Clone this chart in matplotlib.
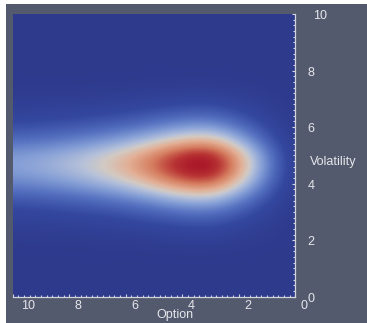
import matplotlib
matplotlib.use('Agg')
import matplotlib.pyplot as plt
import numpy as np
from matplotlib.colors import LinearSegmentedColormap
from matplotlib.patches import Rectangle
from matplotlib.ticker import MultipleLocator
import matplotlib.transforms as mtransforms

# option axis samples (0..10) and peak value of the field along the ridge
option = [0, 1, 2, 3, 4, 5, 6, 7, 8, 9, 10]
ridge = [0.02, 0.3, 0.68, 1.0, 0.95, 0.78, 0.63, 0.53, 0.46, 0.41, 0.38]

# volatility samples (0..10 step 0.5) and relative profile across the ridge
volatility = [0, 0.5, 1, 1.5, 2, 2.5, 3, 3.5, 4, 4.5, 5, 5.5, 6, 6.5, 7, 7.5, 8,
              8.5, 9, 9.5, 10]
profile = [0, 0, 0.004, 0.015, 0.05, 0.13, 0.26, 0.48, 0.78, 0.99, 0.95, 0.65,
           0.38, 0.2, 0.09, 0.03, 0.008, 0, 0, 0, 0]

ticks = [0, 2, 4, 6, 8, 10]
tick_labels = ['0', '2', '4', '6', '8', '10']

field = np.outer(profile, ridge)

bg = '#545a6e'
fg = '#e6e6eb'
axis_col = '#d2d4dc'

cmap = LinearSegmentedColormap.from_list('cw', [
    (0.00, '#2e3a8c'),
    (0.12, '#3448a0'),
    (0.25, '#5571c0'),
    (0.37, '#859fd6'),
    (0.47, '#b4c0da'),
    (0.53, '#d2cac4'),
    (0.62, '#e2b096'),
    (0.74, '#d67e60'),
    (0.86, '#b83434'),
    (1.00, '#9c001e'),
])

fig = plt.figure(figsize=(3.67, 3.23), dpi=100)
fig.patch.set_facecolor('white')
fig.patches.append(Rectangle((6 / 367, 0), 1, 319 / 323, transform=fig.transFigure,
                             facecolor=bg, edgecolor='none', zorder=-10))

ax = fig.add_axes([12.7 / 367, 26.3 / 323, 282.6 / 367, 282.7 / 323])
ax.imshow(field, extent=[-0.5, 10.5, -0.25, 10.25], origin='lower',
          interpolation='bicubic', cmap=cmap, vmin=0, vmax=1, aspect='auto')
ax.set_xlim(10, 0)
ax.set_ylim(0, 10)

for s in ['top', 'left']:
    ax.spines[s].set_visible(False)
for s in ['bottom', 'right']:
    ax.spines[s].set_color(axis_col)
    ax.spines[s].set_linewidth(0.9)

ax.yaxis.tick_right()
ax.xaxis.set_major_locator(MultipleLocator(2))
ax.xaxis.set_minor_locator(MultipleLocator(0.2))
ax.yaxis.set_major_locator(MultipleLocator(2))
ax.yaxis.set_minor_locator(MultipleLocator(0.2))
ax.tick_params(which='both', direction='in', colors=axis_col, width=0.8,
               labelbottom=False, labelright=False, left=False, top=False)
ax.tick_params(which='major', length=2.5)
ax.tick_params(which='minor', length=1.2)

font = dict(family='Liberation Sans', fontsize=9, color=fg)

xtr = mtransforms.blended_transform_factory(ax.transData, ax.transAxes)
ytr = mtransforms.blended_transform_factory(ax.transAxes, ax.transData)
for t, lab in zip(ticks, tick_labels):
    dx = 15 if lab == '10' else 9
    ax.annotate(lab, (t, 0), xycoords=xtr, xytext=(dx, -9.5),
                textcoords='offset pixels', ha='center', va='center', **font)
    dx = 18 if lab == '10' else 12
    ax.annotate(lab, (1, t), xycoords=ytr, xytext=(dx, -2),
                textcoords='offset pixels', ha='left', va='center', **font)

ax.annotate('Option', (4.25, 0), xycoords=xtr, xytext=(0, -18),
            textcoords='offset pixels', ha='center', va='center', **font)
ax.annotate('Volatility', (1, 4.75), xycoords=ytr, xytext=(15, 0),
            textcoords='offset pixels', ha='left', va='center', **font)

fig.savefig('out.png', dpi=100)
